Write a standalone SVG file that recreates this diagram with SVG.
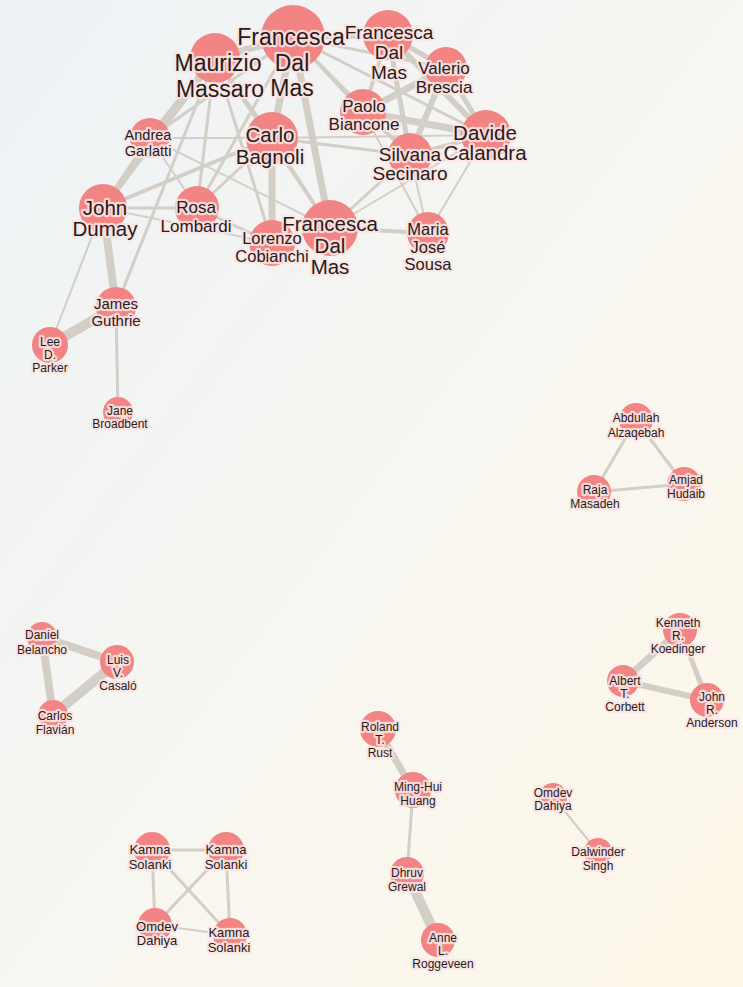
<svg xmlns="http://www.w3.org/2000/svg" width="743" height="987" viewBox="0 0 743 987">
<defs>
<linearGradient id="bg" x1="0" y1="0" x2="1" y2="1">
<stop offset="0" stop-color="#edf2f6"/>
<stop offset="0.5" stop-color="#f7f6f1"/>
<stop offset="1" stop-color="#fdf7e8"/>
</linearGradient>
<style>
.e{stroke:#d3cec6;stroke-linecap:round;fill:none}
.n{fill:#f28484}
text{font-family:"Liberation Sans",Arial,sans-serif;fill:#231c1c;text-anchor:middle;paint-order:stroke;stroke:#fde4e2;stroke-opacity:0.85;stroke-width:4.5px;stroke-linejoin:round}
.f23{font-size:23px}
.f20{font-size:20.5px}
.f19{font-size:19px}
.f17{font-size:17px}
.f16{font-size:16.5px}
.f15{font-size:15px}
.f14{font-size:14.5px}
.f13{font-size:13px}
.f12{font-size:12px}
</style>
</defs>
<rect width="743" height="987" fill="url(#bg)"/>
<g id="connectors">
<line class="e" stroke-width="7" x1="215" y1="58" x2="293" y2="37"/>
<line class="e" stroke-width="7" x1="215" y1="58" x2="150" y2="138"/>
<line class="e" stroke-width="6" x1="215" y1="58" x2="103" y2="208"/>
<line class="e" stroke-width="3" x1="215" y1="58" x2="197" y2="208"/>
<line class="e" stroke-width="4" x1="215" y1="58" x2="272" y2="138"/>
<line class="e" stroke-width="3" x1="215" y1="58" x2="272" y2="243"/>
<line class="e" stroke-width="3" x1="215" y1="58" x2="330" y2="228"/>
<line class="e" stroke-width="3" x1="215" y1="58" x2="116" y2="307"/>
<line class="e" stroke-width="7" x1="293" y1="37" x2="272" y2="138"/>
<line class="e" stroke-width="7" x1="293" y1="37" x2="330" y2="228"/>
<line class="e" stroke-width="6" x1="293" y1="37" x2="388" y2="35"/>
<line class="e" stroke-width="3" x1="293" y1="37" x2="363" y2="112"/>
<line class="e" stroke-width="3" x1="293" y1="37" x2="446" y2="68"/>
<line class="e" stroke-width="3" x1="293" y1="37" x2="486" y2="135"/>
<line class="e" stroke-width="3" x1="293" y1="37" x2="410" y2="155"/>
<line class="e" stroke-width="3" x1="293" y1="37" x2="150" y2="138"/>
<line class="e" stroke-width="3" x1="293" y1="37" x2="197" y2="208"/>
<line class="e" stroke-width="7" x1="272" y1="138" x2="272" y2="243"/>
<line class="e" stroke-width="3" x1="272" y1="138" x2="197" y2="208"/>
<line class="e" stroke-width="4" x1="272" y1="138" x2="103" y2="208"/>
<line class="e" stroke-width="3" x1="272" y1="138" x2="330" y2="228"/>
<line class="e" stroke-width="3" x1="272" y1="138" x2="410" y2="155"/>
<line class="e" stroke-width="2" x1="272" y1="138" x2="486" y2="135"/>
<line class="e" stroke-width="5" x1="388" y1="35" x2="446" y2="68"/>
<line class="e" stroke-width="4" x1="388" y1="35" x2="363" y2="112"/>
<line class="e" stroke-width="6" x1="388" y1="35" x2="486" y2="135"/>
<line class="e" stroke-width="5" x1="388" y1="35" x2="410" y2="155"/>
<line class="e" stroke-width="7" x1="446" y1="68" x2="363" y2="112"/>
<line class="e" stroke-width="5" x1="446" y1="68" x2="486" y2="135"/>
<line class="e" stroke-width="6" x1="446" y1="68" x2="410" y2="155"/>
<line class="e" stroke-width="7" x1="363" y1="112" x2="486" y2="135"/>
<line class="e" stroke-width="3" x1="363" y1="112" x2="410" y2="155"/>
<line class="e" stroke-width="4" x1="410" y1="155" x2="486" y2="135"/>
<line class="e" stroke-width="3" x1="410" y1="155" x2="330" y2="228"/>
<line class="e" stroke-width="2" x1="410" y1="155" x2="428" y2="233"/>
<line class="e" stroke-width="2" x1="486" y1="135" x2="428" y2="233"/>
<line class="e" stroke-width="2" x1="363" y1="112" x2="428" y2="233"/>
<line class="e" stroke-width="4" x1="330" y1="228" x2="428" y2="233"/>
<line class="e" stroke-width="2" x1="486" y1="135" x2="330" y2="228"/>
<line class="e" stroke-width="3" x1="103" y1="208" x2="197" y2="208"/>
<line class="e" stroke-width="2" x1="103" y1="208" x2="272" y2="243"/>
<line class="e" stroke-width="3" x1="197" y1="208" x2="272" y2="243"/>
<line class="e" stroke-width="2" x1="150" y1="138" x2="197" y2="208"/>
<line class="e" stroke-width="2" x1="150" y1="138" x2="330" y2="228"/>
<line class="e" stroke-width="2" x1="150" y1="138" x2="272" y2="138"/>
<line class="e" stroke-width="5" x1="150" y1="138" x2="103" y2="208"/>
<line class="e" stroke-width="3" x1="272" y1="243" x2="330" y2="228"/>
<line class="e" stroke-width="8" x1="103" y1="208" x2="116" y2="307"/>
<line class="e" stroke-width="10" x1="116" y1="307" x2="50" y2="345"/>
<line class="e" stroke-width="3" x1="116" y1="307" x2="118" y2="412"/>
<line class="e" stroke-width="2" x1="50" y1="345" x2="103" y2="208"/>
<line class="e" stroke-width="3" x1="636" y1="420" x2="594" y2="492"/>
<line class="e" stroke-width="3" x1="636" y1="420" x2="684" y2="484"/>
<line class="e" stroke-width="3" x1="594" y1="492" x2="684" y2="484"/>
<line class="e" stroke-width="8" x1="42" y1="637" x2="117" y2="662"/>
<line class="e" stroke-width="8" x1="42" y1="637" x2="53" y2="715"/>
<line class="e" stroke-width="10" x1="117" y1="662" x2="53" y2="715"/>
<line class="e" stroke-width="7" x1="680" y1="630" x2="623" y2="681"/>
<line class="e" stroke-width="5" x1="680" y1="630" x2="707" y2="700"/>
<line class="e" stroke-width="6" x1="623" y1="681" x2="707" y2="700"/>
<line class="e" stroke-width="7" x1="378" y1="729" x2="413" y2="790"/>
<line class="e" stroke-width="3" x1="413" y1="790" x2="407" y2="874"/>
<line class="e" stroke-width="10" x1="407" y1="874" x2="438" y2="940"/>
<line class="e" stroke-width="2" x1="553" y1="797" x2="598" y2="852"/>
<line class="e" stroke-width="3" x1="152" y1="850" x2="226" y2="850"/>
<line class="e" stroke-width="3" x1="152" y1="850" x2="155" y2="925"/>
<line class="e" stroke-width="3" x1="152" y1="850" x2="230" y2="935"/>
<line class="e" stroke-width="3" x1="226" y1="850" x2="155" y2="925"/>
<line class="e" stroke-width="3" x1="226" y1="850" x2="230" y2="935"/>
<line class="e" stroke-width="2" x1="155" y1="925" x2="230" y2="935"/>
</g>
<g id="n-maurizio"><circle class="n" cx="215" cy="58" r="25"/><text class="f23" x="218" y="71">Maurizio<tspan x="220" dy="25.5">Massaro</tspan></text></g>
<g id="n-francesca-a"><circle class="n" cx="293" cy="37" r="32"/><text class="f23" x="291" y="45">Francesca<tspan x="292" dy="25.5">Dal</tspan><tspan x="292" dy="25.5">Mas</tspan></text></g>
<g id="n-francesca-c"><circle class="n" cx="388" cy="35" r="25"/><text class="f19" x="389" y="39">Francesca<tspan x="389" dy="20">Dal</tspan><tspan x="389" dy="20">Mas</tspan></text></g>
<g id="n-valerio"><circle class="n" cx="446" cy="68" r="21"/><text class="f17" x="444" y="74">Valerio<tspan x="444" dy="19">Brescia</tspan></text></g>
<g id="n-paolo"><circle class="n" cx="363" cy="112" r="23"/><text class="f17" x="364" y="112">Paolo<tspan x="364" dy="18">Biancone</tspan></text></g>
<g id="n-davide"><circle class="n" cx="486" cy="135" r="25"/><text class="f20" x="485" y="140">Davide<tspan x="485" dy="20">Calandra</tspan></text></g>
<g id="n-silvana"><circle class="n" cx="410" cy="155" r="22"/><text class="f19" x="410" y="161">Silvana<tspan x="410" dy="19">Secinaro</tspan></text></g>
<g id="n-carlo"><circle class="n" cx="272" cy="138" r="26"/><text class="f20" x="270" y="142">Carlo<tspan x="270" dy="22">Bagnoli</tspan></text></g>
<g id="n-andrea"><circle class="n" cx="150" cy="138" r="20"/><text class="f14" x="148" y="140">Andrea<tspan x="148" dy="15.5">Garlatti</tspan></text></g>
<g id="n-john-dumay"><circle class="n" cx="103" cy="208" r="24"/><text class="f20" x="105" y="215">John<tspan x="105" dy="20.5">Dumay</tspan></text></g>
<g id="n-rosa"><circle class="n" cx="197" cy="208" r="22"/><text class="f17" x="196" y="213">Rosa<tspan x="196" dy="19">Lombardi</tspan></text></g>
<g id="n-lorenzo"><circle class="n" cx="272" cy="243" r="23"/><text class="f16" x="272" y="244">Lorenzo<tspan x="272" dy="17.5">Cobianchi</tspan></text></g>
<g id="n-francesca-b"><circle class="n" cx="330" cy="228" r="28"/><text class="f20" x="330" y="231">Francesca<tspan x="330" dy="21.5">Dal</tspan><tspan x="330" dy="21.5">Mas</tspan></text></g>
<g id="n-maria"><circle class="n" cx="428" cy="233" r="21"/><text class="f16" x="428" y="235">Maria<tspan x="428" dy="17.5">José</tspan><tspan x="428" dy="17.5">Sousa</tspan></text></g>
<g id="n-james"><circle class="n" cx="116" cy="307" r="20"/><text class="f15" x="116" y="309">James<tspan x="116" dy="17">Guthrie</tspan></text></g>
<g id="n-lee"><circle class="n" cx="50" cy="345" r="18"/><text class="f12" x="50" y="346">Lee<tspan x="50" dy="13">D.</tspan><tspan x="50" dy="13">Parker</tspan></text></g>
<g id="n-jane"><circle class="n" cx="118" cy="412" r="15"/><text class="f12" x="120" y="415">Jane<tspan x="120" dy="13">Broadbent</tspan></text></g>
<g id="n-abdullah"><circle class="n" cx="636" cy="420" r="17"/><text class="f12" x="636" y="422">Abdullah<tspan x="636" dy="14.5">Alzaqebah</tspan></text></g>
<g id="n-amjad"><circle class="n" cx="684" cy="484" r="17"/><text class="f12" x="686" y="484">Amjad<tspan x="686" dy="13.5">Hudaib</tspan></text></g>
<g id="n-raja"><circle class="n" cx="594" cy="492" r="17"/><text class="f12" x="595" y="494">Raja<tspan x="595" dy="13.5">Masadeh</tspan></text></g>
<g id="n-daniel"><circle class="n" cx="42" cy="637" r="15"/><text class="f12" x="42" y="639">Daniel<tspan x="42" dy="15">Belancho</tspan></text></g>
<g id="n-luis"><circle class="n" cx="117" cy="662" r="17"/><text class="f12" x="118" y="664">Luis<tspan x="118" dy="13">V.</tspan><tspan x="118" dy="13">Casaló</tspan></text></g>
<g id="n-carlos"><circle class="n" cx="53" cy="715" r="15"/><text class="f12" x="55" y="720">Carlos<tspan x="55" dy="13.5">Flavián</tspan></text></g>
<g id="n-kenneth"><circle class="n" cx="680" cy="630" r="17"/><text class="f12" x="678" y="627">Kenneth<tspan x="678" dy="13">R.</tspan><tspan x="678" dy="13">Koedinger</tspan></text></g>
<g id="n-albert"><circle class="n" cx="623" cy="681" r="16"/><text class="f12" x="625" y="685">Albert<tspan x="625" dy="13">T.</tspan><tspan x="625" dy="13">Corbett</tspan></text></g>
<g id="n-john-anderson"><circle class="n" cx="707" cy="700" r="17"/><text class="f12" x="712" y="701">John<tspan x="712" dy="13">R.</tspan><tspan x="712" dy="13">Anderson</tspan></text></g>
<g id="n-roland"><circle class="n" cx="378" cy="729" r="18"/><text class="f12" x="380" y="731">Roland<tspan x="380" dy="13">T.</tspan><tspan x="380" dy="13">Rust</tspan></text></g>
<g id="n-minghui"><circle class="n" cx="413" cy="790" r="18"/><text class="f12" x="418" y="791">Ming-Hui<tspan x="418" dy="13.5">Huang</tspan></text></g>
<g id="n-dhruv"><circle class="n" cx="407" cy="874" r="17"/><text class="f12" x="407" y="877">Dhruv<tspan x="407" dy="13.5">Grewal</tspan></text></g>
<g id="n-anne"><circle class="n" cx="438" cy="940" r="17"/><text class="f12" x="443" y="942">Anne<tspan x="443" dy="13">L.</tspan><tspan x="443" dy="13">Roggeveen</tspan></text></g>
<g id="n-omdev-r"><circle class="n" cx="553" cy="797" r="14"/><text class="f12" x="553" y="797">Omdev<tspan x="553" dy="13">Dahiya</tspan></text></g>
<g id="n-dalwinder"><circle class="n" cx="598" cy="852" r="14"/><text class="f12" x="598" y="856">Dalwinder<tspan x="598" dy="13.5">Singh</tspan></text></g>
<g id="n-kamna-tl"><circle class="n" cx="152" cy="850" r="18"/><text class="f13" x="150" y="854">Kamna<tspan x="150" dy="15">Solanki</tspan></text></g>
<g id="n-kamna-tr"><circle class="n" cx="226" cy="850" r="18"/><text class="f13" x="226" y="854">Kamna<tspan x="226" dy="15">Solanki</tspan></text></g>
<g id="n-omdev-bl"><circle class="n" cx="155" cy="925" r="17"/><text class="f13" x="157" y="931">Omdev<tspan x="157" dy="14">Dahiya</tspan></text></g>
<g id="n-kamna-br"><circle class="n" cx="230" cy="935" r="17"/><text class="f13" x="229" y="937">Kamna<tspan x="229" dy="14.5">Solanki</tspan></text></g>
</svg>
